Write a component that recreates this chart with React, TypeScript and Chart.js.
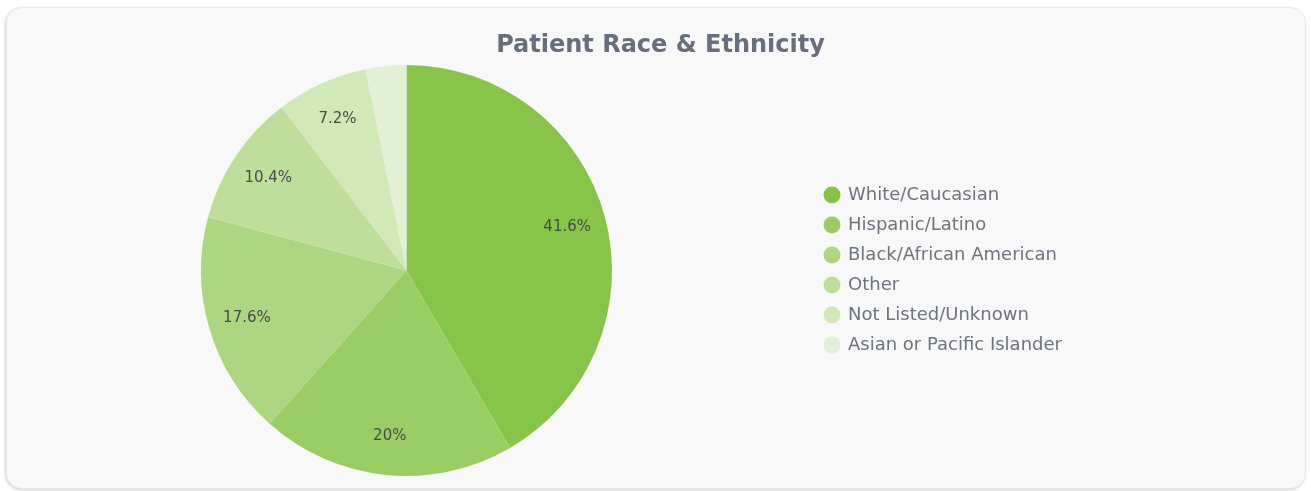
import React, { useEffect, useRef } from "react";
import { Chart, registerables } from "chart.js";

Chart.register(...registerables);

const categories = [
  "White/Caucasian",
  "Hispanic/Latino",
  "Black/African American",
  "Other",
  "Not Listed/Unknown",
  "Asian or Pacific Islander",
];
const percentages = [41.6, 20, 17.6, 10.4, 7.2, 3.2];
const sliceColors = ["#88c34a", "#9bcd65", "#acd681", "#bedf9c", "#d1e9b9", "#e2f0d5"];
const chartTitle = "Patient Race & Ethnicity";
const FONT = "'DejaVu Sans', sans-serif";

const sliceLabels = {
  id: "sliceLabels",
  afterDatasetsDraw(chart: any) {
    const ctx = chart.ctx;
    const meta = chart.getDatasetMeta(0);
    const data = chart.data.datasets[0].data as number[];
    ctx.save();
    ctx.font = `15px ${FONT}`;
    ctx.fillStyle = "#4a4a4a";
    ctx.textAlign = "center";
    ctx.textBaseline = "middle";
    meta.data.forEach((arc: any, i: number) => {
      const v = data[i];
      if (v < 5) return;
      const p = arc.getProps(["x", "y", "startAngle", "endAngle", "outerRadius"], true);
      const mid = (p.startAngle + p.endAngle) / 2;
      const r = p.outerRadius * 0.81;
      ctx.fillText(`${v}%`, p.x + Math.cos(mid) * r, p.y + Math.sin(mid) * r);
    });
    ctx.restore();
  },
};

export default function App() {
  const ref = useRef<HTMLCanvasElement>(null);
  useEffect(() => {
    if (!ref.current) return;
    const chart = new Chart(ref.current, {
      type: "pie",
      data: {
        labels: categories,
        datasets: [
          {
            data: percentages,
            backgroundColor: sliceColors,
            borderWidth: 0,
          },
        ],
      },
      options: {
        responsive: false,
        animation: false,
        layout: { padding: { top: 0, bottom: 12, left: 0, right: -9 } },
        plugins: {
          title: {
            display: true,
            text: chartTitle,
            color: "#666f7b",
            font: { family: FONT, size: 24, weight: "bold" },
            padding: { top: 23.6, bottom: 4.6 },
          },
          legend: {
            display: true,
            position: "right",
            align: "center",
            labels: {
              usePointStyle: true,
              pointStyle: "circle",
              boxWidth: 14,
              boxHeight: 12,
              padding: 12,
              color: "#6d747e",
              font: { family: FONT, size: 18 },
            },
          },
          tooltip: { enabled: false },
        },
      },
      plugins: [sliceLabels],
    });
    const leg: any = (chart as any).legend;
    if (leg) {
      const origFit = leg.fit.bind(leg);
      leg.fit = function () {
        origFit();
        this.width = 508;
      };
      const origDraw = leg.draw.bind(leg);
      leg.draw = function (area: any) {
        const ctx = chart.ctx;
        ctx.save();
        ctx.translate(7, 28);
        origDraw(area);
        ctx.restore();
      };
      chart.update();
    }
    return () => chart.destroy();
  }, []);
  return (
    <div
      style={{
        position: "absolute",
        left: 6,
        top: 7,
        width: 1300,
        height: 482,
        boxSizing: "border-box",
        background: "#f8f8f8",
        border: "1px solid #ebebeb",
        borderRadius: 16,
        boxShadow: "-1px 1px 3px rgba(0,0,0,0.18)",
        overflow: "hidden",
      }}
    >
      <canvas ref={ref} width={1298} height={480} style={{ display: "block" }} />
    </div>
  );
}
